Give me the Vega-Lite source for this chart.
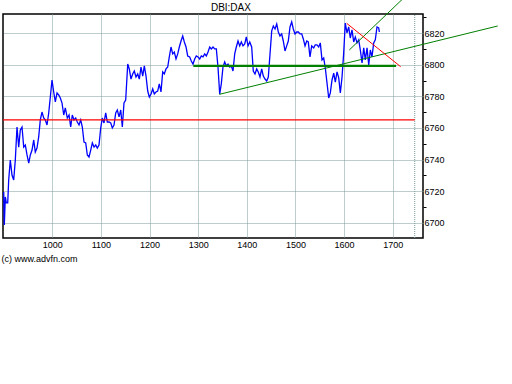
{
  "$schema": "https://vega.github.io/schema/vega-lite/v6.json",
  "width": 420,
  "height": 224,
  "autosize": "none",
  "padding": {"left": 3, "top": 14, "right": 89, "bottom": 146},
  "background": "white",
  "config": {
    "view": {"stroke": "black", "strokeWidth": 1.5},
    "axis": {"labelFont": "Liberation Sans", "labelFontSize": 9, "labelColor": "black", "titleFont": "Liberation Sans", "titleColor": "black", "labelOverlap": false}
  },
  "datasets": {
    "price": [
      {"t": 900.1, "v": 6719.4}, {"t": 901.3, "v": 6698.5}, {"t": 903.4, "v": 6716.3}, {"t": 905.4, "v": 6712.5}, {"t": 908.3, "v": 6712.5},
      {"t": 910.3, "v": 6727.0}, {"t": 913.6, "v": 6739.7}, {"t": 917.1, "v": 6730.2}, {"t": 920.6, "v": 6727.0}, {"t": 923.9, "v": 6739.7},
      {"t": 927.4, "v": 6760.6}, {"t": 930.9, "v": 6747.9}, {"t": 934.2, "v": 6758.7}, {"t": 937.7, "v": 6760.6}, {"t": 941.2, "v": 6747.9},
      {"t": 944.5, "v": 6749.2}, {"t": 948.0, "v": 6742.9}, {"t": 951.5, "v": 6737.8}, {"t": 954.8, "v": 6742.9}, {"t": 958.3, "v": 6746.0},
      {"t": 961.8, "v": 6752.4}, {"t": 965.0, "v": 6744.8}, {"t": 968.5, "v": 6747.3}, {"t": 972.0, "v": 6754.3}, {"t": 975.3, "v": 6765.1},
      {"t": 978.8, "v": 6770.1}, {"t": 982.3, "v": 6766.3}, {"t": 985.6, "v": 6765.1}, {"t": 989.1, "v": 6761.9}, {"t": 992.6, "v": 6769.5},
      {"t": 995.9, "v": 6779.6}, {"t": 999.4, "v": 6790.4}, {"t": 1002.9, "v": 6782.8}, {"t": 1006.2, "v": 6776.5}, {"t": 1009.7, "v": 6782.2},
      {"t": 1013.2, "v": 6780.9}, {"t": 1016.5, "v": 6779.0}, {"t": 1020.0, "v": 6775.8}, {"t": 1023.5, "v": 6768.2}, {"t": 1026.7, "v": 6772.7},
      {"t": 1030.9, "v": 6766.3}, {"t": 1034.4, "v": 6768.2}, {"t": 1037.8, "v": 6760.6}, {"t": 1041.1, "v": 6768.2}, {"t": 1044.6, "v": 6765.1},
      {"t": 1048.1, "v": 6766.3}, {"t": 1051.4, "v": 6763.8}, {"t": 1054.9, "v": 6761.9}, {"t": 1058.4, "v": 6765.1}, {"t": 1061.7, "v": 6760.6},
      {"t": 1065.2, "v": 6751.1}, {"t": 1068.7, "v": 6750.5}, {"t": 1072.0, "v": 6742.9}, {"t": 1075.5, "v": 6741.6}, {"t": 1079.0, "v": 6746.0},
      {"t": 1082.3, "v": 6750.5}, {"t": 1085.8, "v": 6747.9}, {"t": 1089.3, "v": 6749.2}, {"t": 1092.5, "v": 6747.3}, {"t": 1096.0, "v": 6749.2},
      {"t": 1099.5, "v": 6760.0}, {"t": 1102.8, "v": 6766.3}, {"t": 1106.3, "v": 6763.2}, {"t": 1109.8, "v": 6769.5}, {"t": 1113.1, "v": 6763.8},
      {"t": 1116.6, "v": 6763.8}, {"t": 1120.1, "v": 6763.2}, {"t": 1123.4, "v": 6760.0}, {"t": 1126.9, "v": 6761.9}, {"t": 1130.4, "v": 6769.5},
      {"t": 1133.7, "v": 6771.4}, {"t": 1137.2, "v": 6767.0}, {"t": 1140.7, "v": 6771.4}, {"t": 1144.0, "v": 6760.6}, {"t": 1147.4, "v": 6775.8},
      {"t": 1150.9, "v": 6777.7}, {"t": 1155.1, "v": 6800.5}, {"t": 1158.3, "v": 6797.4}, {"t": 1161.8, "v": 6791.0}, {"t": 1165.3, "v": 6794.2},
      {"t": 1168.6, "v": 6796.1}, {"t": 1172.1, "v": 6792.3}, {"t": 1175.6, "v": 6794.2}, {"t": 1178.9, "v": 6791.0}, {"t": 1182.4, "v": 6798.6},
      {"t": 1185.9, "v": 6792.9}, {"t": 1189.2, "v": 6799.3}, {"t": 1192.7, "v": 6792.9}, {"t": 1196.2, "v": 6783.4}, {"t": 1199.5, "v": 6779.6},
      {"t": 1203.0, "v": 6781.5}, {"t": 1206.5, "v": 6784.7}, {"t": 1209.7, "v": 6781.5}, {"t": 1213.2, "v": 6782.8}, {"t": 1216.7, "v": 6783.4},
      {"t": 1220.0, "v": 6787.9}, {"t": 1223.5, "v": 6782.8}, {"t": 1227.0, "v": 6795.5}, {"t": 1230.3, "v": 6794.2}, {"t": 1233.8, "v": 6797.4},
      {"t": 1237.3, "v": 6798.6}, {"t": 1240.6, "v": 6805.0}, {"t": 1244.1, "v": 6811.3}, {"t": 1247.6, "v": 6806.9}, {"t": 1250.9, "v": 6808.1},
      {"t": 1254.4, "v": 6803.7}, {"t": 1257.9, "v": 6806.9}, {"t": 1261.2, "v": 6811.3}, {"t": 1264.7, "v": 6815.1}, {"t": 1268.2, "v": 6818.3},
      {"t": 1271.5, "v": 6814.5}, {"t": 1275.0, "v": 6811.3}, {"t": 1278.4, "v": 6805.6}, {"t": 1282.5, "v": 6805.0}, {"t": 1285.8, "v": 6802.4},
      {"t": 1289.3, "v": 6800.5}, {"t": 1292.8, "v": 6803.7}, {"t": 1296.1, "v": 6805.6}, {"t": 1299.6, "v": 6805.0}, {"t": 1303.1, "v": 6803.7},
      {"t": 1306.4, "v": 6805.6}, {"t": 1309.9, "v": 6805.0}, {"t": 1313.4, "v": 6806.9}, {"t": 1316.7, "v": 6805.6}, {"t": 1320.2, "v": 6808.1},
      {"t": 1323.7, "v": 6811.3}, {"t": 1327.0, "v": 6810.1}, {"t": 1330.5, "v": 6811.3}, {"t": 1334.0, "v": 6810.1}, {"t": 1337.3, "v": 6810.1},
      {"t": 1340.7, "v": 6798.6}, {"t": 1344.2, "v": 6781.5}, {"t": 1347.5, "v": 6787.9}, {"t": 1351.0, "v": 6798.6}, {"t": 1354.5, "v": 6801.8},
      {"t": 1357.8, "v": 6799.3}, {"t": 1361.3, "v": 6800.5}, {"t": 1364.8, "v": 6798.6}, {"t": 1368.1, "v": 6799.3}, {"t": 1371.6, "v": 6796.1},
      {"t": 1375.1, "v": 6806.9}, {"t": 1378.4, "v": 6811.3}, {"t": 1381.9, "v": 6815.1}, {"t": 1385.4, "v": 6812.0}, {"t": 1388.7, "v": 6814.5},
      {"t": 1392.2, "v": 6812.0}, {"t": 1395.7, "v": 6813.2}, {"t": 1399.0, "v": 6817.7}, {"t": 1402.5, "v": 6812.0}, {"t": 1406.0, "v": 6814.5},
      {"t": 1410.0, "v": 6811.3}, {"t": 1413.3, "v": 6796.1}, {"t": 1416.8, "v": 6794.2}, {"t": 1420.3, "v": 6797.4}, {"t": 1423.6, "v": 6795.5},
      {"t": 1427.1, "v": 6792.3}, {"t": 1430.6, "v": 6797.4}, {"t": 1433.9, "v": 6792.9}, {"t": 1437.4, "v": 6791.0}, {"t": 1440.9, "v": 6789.8},
      {"t": 1444.2, "v": 6792.3}, {"t": 1447.7, "v": 6806.9}, {"t": 1451.2, "v": 6821.5}, {"t": 1454.5, "v": 6824.6}, {"t": 1458.0, "v": 6822.7},
      {"t": 1461.5, "v": 6825.9}, {"t": 1464.8, "v": 6820.8}, {"t": 1468.2, "v": 6818.3}, {"t": 1471.7, "v": 6819.6}, {"t": 1475.0, "v": 6815.1},
      {"t": 1478.5, "v": 6808.8}, {"t": 1482.0, "v": 6812.0}, {"t": 1485.3, "v": 6815.1}, {"t": 1488.8, "v": 6824.0}, {"t": 1492.3, "v": 6827.2},
      {"t": 1495.6, "v": 6822.7}, {"t": 1499.1, "v": 6819.6}, {"t": 1502.6, "v": 6820.8}, {"t": 1505.9, "v": 6820.8}, {"t": 1509.4, "v": 6819.6},
      {"t": 1512.9, "v": 6819.6}, {"t": 1516.2, "v": 6816.4}, {"t": 1519.7, "v": 6812.0}, {"t": 1523.2, "v": 6815.1}, {"t": 1526.4, "v": 6814.5},
      {"t": 1529.9, "v": 6805.0}, {"t": 1533.4, "v": 6812.0}, {"t": 1537.5, "v": 6810.7}, {"t": 1540.7, "v": 6812.6}, {"t": 1544.3, "v": 6812.6},
      {"t": 1547.8, "v": 6811.3}, {"t": 1551.1, "v": 6813.9}, {"t": 1554.6, "v": 6803.1}, {"t": 1558.1, "v": 6804.3}, {"t": 1561.4, "v": 6798.0},
      {"t": 1564.9, "v": 6788.5}, {"t": 1568.4, "v": 6779.0}, {"t": 1571.7, "v": 6782.2}, {"t": 1575.2, "v": 6790.4}, {"t": 1578.7, "v": 6794.8},
      {"t": 1582.0, "v": 6789.1}, {"t": 1585.5, "v": 6795.5}, {"t": 1589.0, "v": 6791.7}, {"t": 1592.3, "v": 6782.2}, {"t": 1595.8, "v": 6792.3},
      {"t": 1599.2, "v": 6807.5}, {"t": 1602.5, "v": 6826.5}, {"t": 1606.0, "v": 6820.2}, {"t": 1609.5, "v": 6824.0}, {"t": 1612.8, "v": 6817.0},
      {"t": 1616.3, "v": 6822.1}, {"t": 1619.8, "v": 6814.5}, {"t": 1623.1, "v": 6817.7}, {"t": 1626.6, "v": 6813.9}, {"t": 1630.1, "v": 6815.8},
      {"t": 1633.4, "v": 6809.4}, {"t": 1636.9, "v": 6801.2}, {"t": 1640.4, "v": 6810.7}, {"t": 1643.7, "v": 6803.1}, {"t": 1647.2, "v": 6810.7},
      {"t": 1650.7, "v": 6799.9}, {"t": 1654.0, "v": 6809.4}, {"t": 1657.4, "v": 6805.0}, {"t": 1660.9, "v": 6813.9}, {"t": 1664.2, "v": 6815.8},
      {"t": 1667.7, "v": 6824.0}, {"t": 1671.2, "v": 6823.4}, {"t": 1672.5, "v": 6820.8}
    ],
    "redLevel": [{"t": 898.6, "v": 6765.1}, {"t": 1745.5, "v": 6765.1}],
    "greenLevel": [{"t": 1290.0, "v": 6799.4}, {"t": 1707.0, "v": 6799.4}],
    "support": [{"t": 1343.4, "v": 6781.3}, {"t": 1915.9, "v": 6824.6}],
    "channel": [{"t": 1610.7, "v": 6809.4}, {"t": 1720.0, "v": 6841.6}],
    "resistance": [{"t": 1605.4, "v": 6826.3}, {"t": 1716.4, "v": 6798.8}],
    "edgeGrid": [{"t": 1745.3, "v": 6690.3}, {"t": 1745.3, "v": 6832.2}],
    "heading": [{"t": 1367.3, "v": 6834.1, "label": "DBI:DAX"}]
  },
  "encoding": {
    "x": {"field": "t", "type": "quantitative",
      "scale": {"domain": [898.6, 1762.3], "nice": false, "zero": false},
      "axis": {"values": [1000, 1100, 1200, 1300, 1400, 1500, 1600, 1700], "format": "d", "grid": true, "gridColor": "#7a9a9a", "gridDash": [1, 1], "gridWidth": 1, "tickSize": 0, "domain": false, "labelPadding": 2, "labelFlush": false, "labelOverlap": false,
        "title": "(c) www.advfn.com", "titleFontSize": 9, "titleFontWeight": "normal", "titleAnchor": "start", "titleAlign": "left", "titleBaseline": "alphabetic", "titleX": -2, "titleY": 23}},
    "y": {"field": "v", "type": "quantitative",
      "scale": {"domain": [6690.3, 6832.2], "nice": false, "zero": false},
      "axis": {"orient": "right", "values": [6700, 6710, 6720, 6730, 6740, 6750, 6760, 6770, 6780, 6790, 6800, 6810, 6820, 6830], "format": "d",
        "labelExpr": "datum.value % 20 === 0 ? datum.label : ''",
        "grid": true, "gridColor": "#7a9a9a", "gridDash": [1, 1], "gridWidth": 1,
        "gridOpacity": {"condition": {"test": "datum.value % 20 === 0", "value": 1}, "value": 0},
        "tickSize": 3, "tickColor": "black",
        "tickOpacity": {"condition": {"test": "datum.value % 20 === 0", "value": 0}, "value": 1},
        "domain": false, "labelPadding": -2, "labelFlush": false, "labelOverlap": false, "title": null}}
  },
  "layer": [
    {
      "data": {"name": "edgeGrid"},
      "mark": {"type": "line", "color": "#7a9a9a", "strokeDash": [1, 1], "strokeWidth": 1}
    },
    {
      "data": {"name": "price"},
      "mark": {"type": "line", "color": "#0000ff", "strokeWidth": 1.3, "clip": true}
    },
    {
      "data": {"name": "redLevel"},
      "mark": {"type": "line", "color": "#ff0000", "strokeWidth": 1.2, "clip": false}
    },
    {
      "data": {"name": "greenLevel"},
      "mark": {"type": "line", "color": "#008000", "strokeWidth": 2.2, "clip": false}
    },
    {
      "data": {"name": "support"},
      "mark": {"type": "line", "color": "#008000", "strokeWidth": 1, "clip": false}
    },
    {
      "data": {"name": "channel"},
      "mark": {"type": "line", "color": "#008000", "strokeWidth": 1, "clip": false}
    },
    {
      "data": {"name": "resistance"},
      "mark": {"type": "line", "color": "#ff0000", "strokeWidth": 1, "clip": false}
    },
    {
      "data": {"name": "heading"},
      "mark": {"type": "text", "font": "Liberation Sans", "fontSize": 10, "color": "black", "align": "center", "baseline": "alphabetic", "clip": false},
      "encoding": {"text": {"field": "label", "type": "nominal"}}
    }
  ]
}
